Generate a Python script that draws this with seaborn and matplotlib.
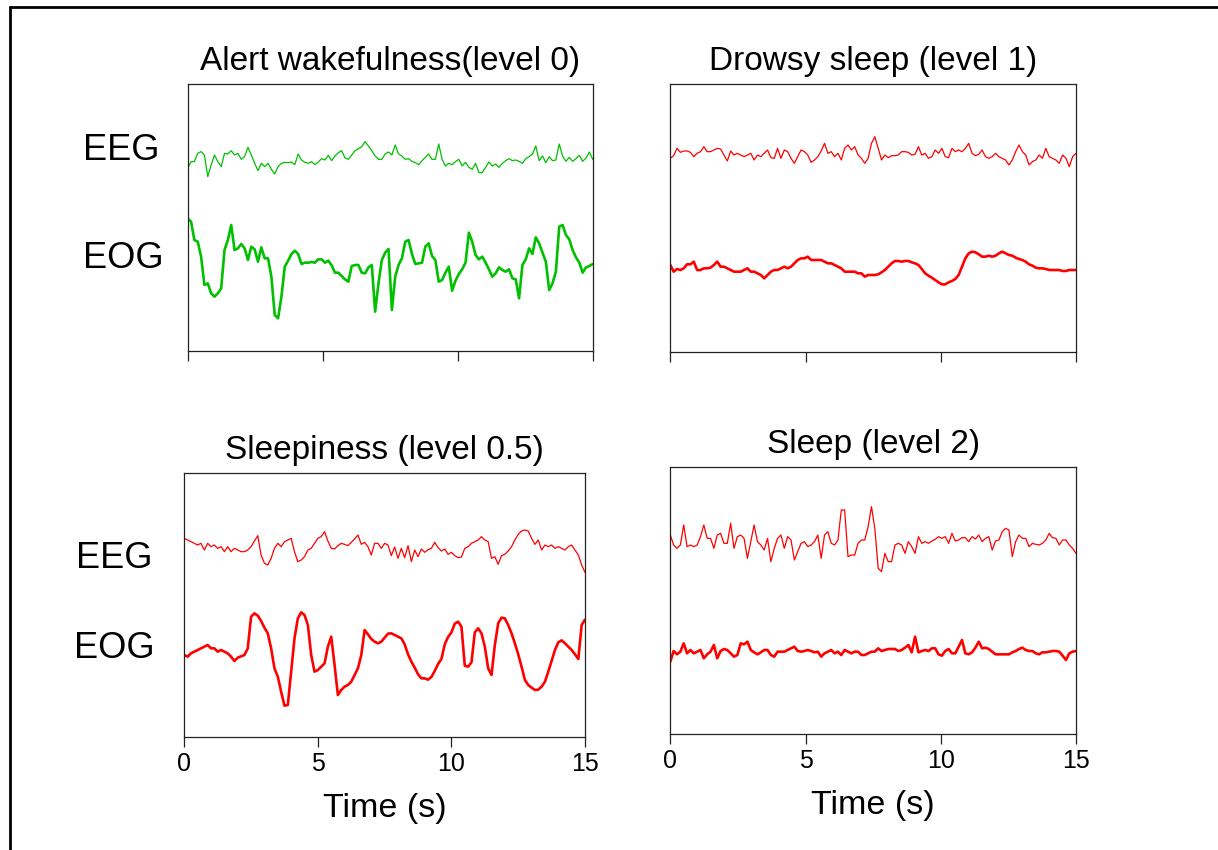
import numpy as np
import matplotlib
matplotlib.use("Agg")
import matplotlib.pyplot as plt
import seaborn as sns
from matplotlib.lines import Line2D

sns.set_theme(style="white")
plt.rcParams['font.family'] = ['Liberation Sans', 'DejaVu Sans']
plt.rcParams['text.color'] = 'black'
plt.rcParams['axes.labelcolor'] = 'black'
plt.rcParams['xtick.color'] = 'black'

# ---- data (signal levels, negative-up convention: larger value = lower trace) ----
titles = ["Alert wakefulness(level 0)", "Drowsy sleep (level 1)",
          "Sleepiness (level 0.5)", "Sleep (level 2)"]
channel_names = ["EEG", "EOG"]
xticks = [0, 5, 10, 15]
duration = 15

eeg_alert = [115,95,95,70,65,75,140,105,75,95, 110,70,72,62,75,70,88,80,52,75,
             100,122,100,110,100,118,132,110,100,97, 98,96,104,72,90,97,100,95,104,96,
             86,90,76,92,78,68,62,84,88,75, 62,56,50,35,48,62,78,88,88,72, 66,75,
             45,72,78,88,86,94,98,104,92,82, 72,88,88,42,88,108,100,104,95,88,
             108,97,112,118,100,128,128,112,96,108, 102,112,100,92,86,92,90,94,100,86,
             80,72,48,92,78,98,80,92,90,42, 78,94,82,94,86,76,94,84,66,88]
eog_alert = [265,275,330,335,380,465,460,490,500,490, 475,360,330,285,360,355,342,355,390,350,
             358,395,352,385,385,440,555,565,500,410, 392,372,362,372,402,398,398,396,398,388,
             388,398,392,406,428,428,438,448,455,408, 405,405,428,430,412,405,545,460,390,368,
             357,540,
             440,405,385,335,330,372,402,400,398,350, 340,378,390,455,450,428,410,482,452,432,
             418,398,308,335,375,388,380,398,418,440, 430,412,420,425,418,445,448,505,405,388,
             355,372,322,340,368,395,480,460,425,290, 285,315,328,360,382,398,428,412,408,402]

eeg_drowsy = [100,92,70,82,78,78,82,95,85,80, 65,80,80,75,70,72,90,108,78,90,
              85,90,95,90,85,105,90,95,85,75, 98,100,70,100,75,80,100,115,95,75,
              80,90,112,105,95,78,55,85,80,95, 85,105,70,60,75,65,90,100,115,100, 55,35,
              70,105,90,98,92,92,90,80,80,82, 90,88,65,90,85,100,95,75,85,70,
              95,98,70,80,75,80,70,55,85,92, 88,75,95,100,95,85,95,100,105,120,
              105,80,60,80,90,120,110,105,90,100, 70,95,100,105,115,90,100,125,95,85]
eog_drowsy = [420,440,432,435,430,418,418,410,435,435, 430,430,428,420,410,425,425,430,435,440,
              440,440,435,430,440,440,445,450,460,450, 440,435,435,430,425,430,425,415,405,400,
              400,395,405,405,405,405,410,415,415,420, 425,430,440,440,440,440,445,445,455,450,
              450,450,
              448,442,435,425,415,408,408,410,408,408, 412,415,420,432,445,452,458,465,472,478,
              478,472,468,462,450,425,400,385,380,382, 388,395,395,392,395,392,385,380,385,390,
              392,398,402,405,410,418,422,428,430,430, 432,435,435,435,435,438,438,435,435,435]

eeg_sleepy = [70,75,80,85,90,85,105,85,95,90, 100,95,110,95,110,100,105,110,110,105,
              95,78,62,120,145,150,130,100,85,95, 80,75,70,110,140,135,125,105,100,85,
              70,65,50,78,100,102,92,85,88,92, 82,72,60,88,82,95,120,85,85,100, 85,
              90,122,96,130,100,128,92,140,105,125, 102,112,104,100,82,98,108,102,118,112,
              122,128,126,100,95,85,80,75,65,75, 80,130,125,148,122,118,108,95,75,58,
              48,45,48,70,88,75,105,90,95,90, 100,95,100,105,95,90,105,120,150,172]
eog_sleepy = [420,425,415,410,405,400,395,390,400,400, 410,405,410,415,425,438,428,424,420,400,
              305,295,302,318,338,355,400,460,485,530, 572,570,470,370,310,292,300,330,420,470,
              465,455,445,395,365,450,540,525,515,510, 500,480,460,420,345,358,372,380,385,380,
              368,
              356,355,360,365,370,388,418,440,458,478, 490,490,494,486,468,447,432,388,366,352,
              326,320,335,452,455,442,352,340,355,395, 460,480,390,325,308,310,330,355,385,418,
              455,495,510,518,525,524,515,500,470,438, 405,382,376,385,395,405,418,432,330,314]

eeg_sleep = [120,150,160,150,90,155,150,155,150,125, 90,130,130,160,120,115,145,145,85,160,
             125,120,130,190,140,90,140,150,165,130, 200,160,130,120,160,125,135,195,170,145,
             140,155,150,140,120,190,120,110,145,150, 135,45,45,185,180,180,145,135,135,95,
             35,100,
             220,230,175,200,200,150,145,150,175,140, 155,175,125,145,140,145,138,133,125,130,
             125,145,115,138,135,128,128,140,125,132, 120,140,130,125,165,138,135,110,100,105,
             185,140,120,130,130,155,145,148,150,145, 135,115,128,130,150,135,135,150,160,175]
eog_sleep = [500,468,478,470,445,475,465,475,470,465, 490,478,470,450,490,468,462,465,475,485,
             480,445,448,440,465,472,478,472,465,465, 480,485,470,470,470,465,460,455,468,470,
             468,465,468,472,470,485,475,470,465,475, 470,480,465,470,475,470,470,480,480,475,
             470,470,
             460,468,465,462,462,462,468,465,458,450, 472,425,472,468,465,468,460,460,478,482,
             468,462,475,475,455,435,475,478,472,458, 440,460,458,462,470,478,478,478,478,478,
             472,468,462,458,465,468,468,475,478,472, 472,470,468,468,470,482,495,475,470,468]

GREEN = "#00c000"
RED = "#ff0000"

W, H = 1218, 850
fig = plt.figure(figsize=(W / 100, H / 100), dpi=100)
fig.patch.set_facecolor("white")

def add_ax(l, t, r, b):
    return fig.add_axes([l / W, 1 - b / H, (r - l) / W, (b - t) / H])

panels = [
    (titles[0], (187.7, 83.5, 592.7, 351.0), eeg_alert, eog_alert, GREEN, (663, -139.5), False),
    (titles[1], (670.3, 84.0, 1076.0, 351.5), eeg_drowsy, eog_drowsy, RED, (679.5, -123), False),
    (titles[2], (184.3, 472.7, 585.0, 736.7), eeg_sleepy, eog_sleepy, RED, (665.1, -126.9), True),
    (titles[3], (670.3, 466.7, 1076.0, 734.0), eeg_sleep, eog_sleep, RED, (717, -84.9), True),
]

for title, box, eeg, eog, col, ylim, bottom_row in panels:
    ax = add_ax(*box)
    t_eeg = np.linspace(0, duration, len(eeg))
    t_eog = np.linspace(0, duration, len(eog))
    sns.lineplot(x=t_eeg, y=np.array(eeg, float), ax=ax, color=col, linewidth=0.9,
                 estimator=None, sort=False)
    sns.lineplot(x=t_eog, y=np.array(eog, float), ax=ax, color=col, linewidth=1.9,
                 estimator=None, sort=False)
    ax.set_xlim(0, duration)
    ax.set_ylim(*ylim)
    ax.set_yticks([])
    ax.set_xticks(xticks)
    ax.set_ylabel("")
    for s in ax.spines.values():
        s.set_visible(True)
        s.set_color("#222222")
        s.set_linewidth(0.9)
    ax.tick_params(axis="x", bottom=True, direction="out", length=7, width=0.9,
                   color="#222222", labelcolor="black", labelsize=18, pad=4,
                   labelbottom=bottom_row)
    ax.set_title(title, fontsize=24, pad=10, color="black")
    if bottom_row:
        ax.set_xlabel("Time (s)", fontsize=24.5, labelpad=12, color="black")
    else:
        ax.set_xlabel("")
    ax.grid(False)

# channel labels
lab_fs = 26
fig.text(121 / W, 1 - 150 / H, channel_names[0], ha="center", va="center", fontsize=lab_fs)
fig.text(123 / W, 1 - 258 / H, channel_names[1], ha="center", va="center", fontsize=lab_fs)
fig.text(114 / W, 1 - 558 / H, channel_names[0], ha="center", va="center", fontsize=lab_fs)
fig.text(114 / W, 1 - 649 / H, channel_names[1], ha="center", va="center", fontsize=lab_fs)

# outer frame (left and top edges)
fig.add_artist(Line2D([10 / W, 10 / W], [0, 1 - 6.7 / H], color="black", lw=2.0,
                      transform=fig.transFigure))
fig.add_artist(Line2D([10 / W, 1.0], [1 - 6.7 / H, 1 - 6.7 / H], color="black", lw=2.0,
                      transform=fig.transFigure))

fig.savefig("out.png", dpi=100, facecolor="white")
